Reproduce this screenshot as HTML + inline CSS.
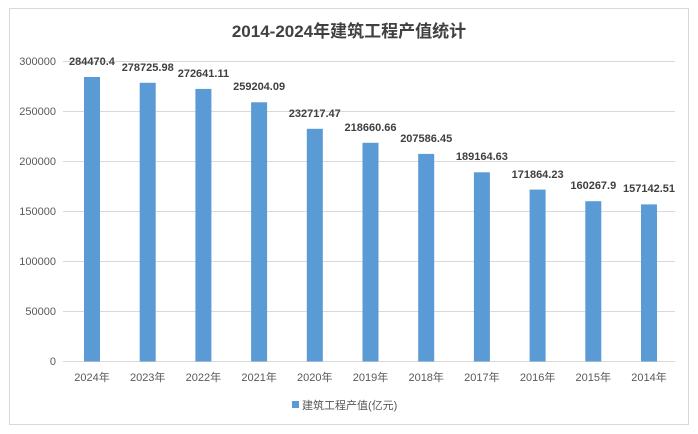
<!DOCTYPE html>
<html><head><meta charset="utf-8"><style>
body{margin:0;background:#fff;}
svg{display:block;font-family:"Liberation Sans","Noto Sans CJK SC",sans-serif;}
</style></head><body>
<svg width="698" height="434" xmlns="http://www.w3.org/2000/svg">
<rect x="0" y="0" width="698" height="434" fill="#fff"/>
<rect x="9.5" y="8.5" width="679" height="416" fill="#fff" stroke="#d9d9d9"/>
<text x="349" y="37" text-anchor="middle" font-size="17" font-weight="bold" fill="#404040">2014-2024年建筑工程产值统计</text>
<g stroke="#d9d9d9" stroke-width="1">
<line x1="63" x2="675" y1="61.5" y2="61.5"/><line x1="63" x2="675" y1="111.5" y2="111.5"/>
<line x1="63" x2="675" y1="161.5" y2="161.5"/><line x1="63" x2="675" y1="211.5" y2="211.5"/>
<line x1="63" x2="675" y1="261.5" y2="261.5"/><line x1="63" x2="675" y1="311.5" y2="311.5"/>
<line x1="63" x2="675" y1="361.5" y2="361.5"/>
</g>
<g font-size="11" fill="#595959" text-anchor="end">
<text x="56" y="65">300000</text><text x="56" y="115">250000</text><text x="56" y="165">200000</text>
<text x="56" y="215">150000</text><text x="56" y="265">100000</text><text x="56" y="315">50000</text><text x="56" y="365">0</text>
</g>
<g fill="#5b9bd5">
<rect x="84" y="77" width="16" height="284.5"/>
<rect x="139.7" y="82.8" width="16" height="278.7"/>
<rect x="195.4" y="88.9" width="16" height="272.6"/>
<rect x="251.1" y="102.3" width="16" height="259.2"/>
<rect x="306.8" y="128.8" width="16" height="232.7"/>
<rect x="362.5" y="142.8" width="16" height="218.7"/>
<rect x="418.2" y="153.9" width="16" height="207.6"/>
<rect x="473.9" y="172.3" width="16" height="189.2"/>
<rect x="529.6" y="189.6" width="16" height="171.9"/>
<rect x="585.3" y="201.2" width="16" height="160.3"/>
<rect x="641" y="204.4" width="16" height="157.1"/>
</g>
<g font-size="11" font-weight="bold" fill="#404040" text-anchor="middle">
<text x="92" y="65">284470.4</text>
<text x="147.7" y="71">278725.98</text>
<text x="203.4" y="77">272641.11</text>
<text x="259.1" y="90">259204.09</text>
<text x="314.8" y="117">232717.47</text>
<text x="370.5" y="131">218660.66</text>
<text x="426.2" y="142">207586.45</text>
<text x="481.9" y="160">189164.63</text>
<text x="537.6" y="178">171864.23</text>
<text x="593.3" y="189">160267.9</text>
<text x="649" y="192">157142.51</text>
</g>
<g font-size="11" fill="#595959" text-anchor="middle">
<text x="92" y="381">2024年</text><text x="147.7" y="381">2023年</text><text x="203.4" y="381">2022年</text>
<text x="259.1" y="381">2021年</text><text x="314.8" y="381">2020年</text><text x="370.5" y="381">2019年</text>
<text x="426.2" y="381">2018年</text><text x="481.9" y="381">2017年</text><text x="537.6" y="381">2016年</text>
<text x="593.3" y="381">2015年</text><text x="649" y="381">2014年</text>
</g>
<rect x="292" y="401" width="7" height="7" fill="#5b9bd5"/>
<text x="302" y="409" font-size="11" fill="#595959">建筑工程产值(亿元)</text>
</svg>
</body></html>
